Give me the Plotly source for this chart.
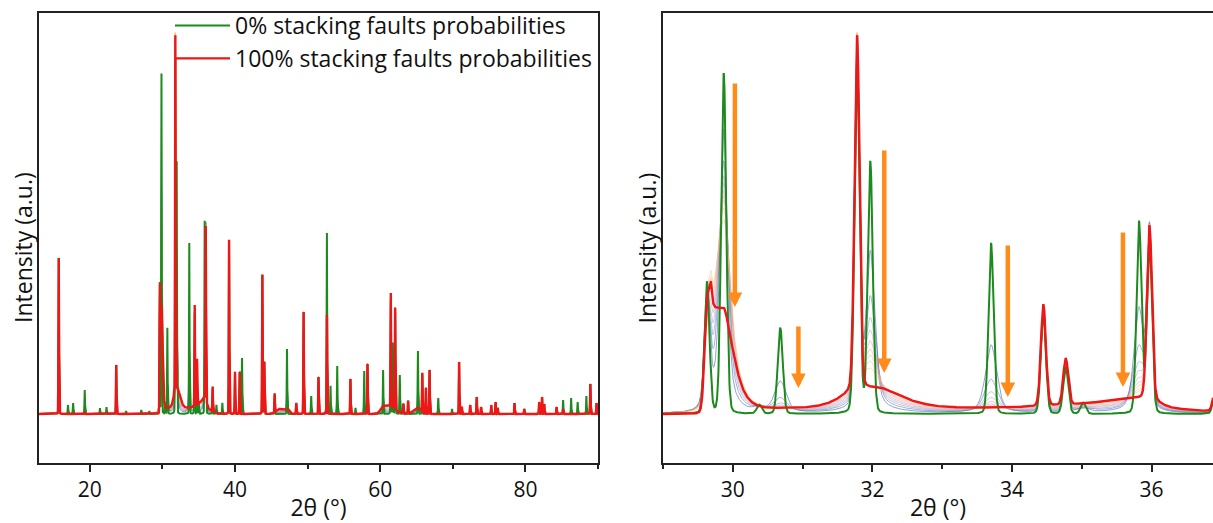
import numpy as np
import plotly.graph_objects as go

# ---------------- data ----------------
# Reflection table: 2θ position, height at 0 % faults (green), at 100 % faults (red),
# and how quickly the faulted part of the reflection fades with fault probability
peak_pos = [15.72, 17.0, 17.7, 19.3, 21.4, 22.3, 23.64, 25.0, 27.1, 28.2,
            29.63, 29.87, 30.38, 30.68, 31.78, 31.97, 33.70, 34.45, 34.77, 35.02,
            35.82, 35.97, 36.92, 37.44, 38.26, 39.18, 40.0, 40.65, 40.97, 43.77,
            44.04, 45.46, 47.16, 48.44, 49.45, 50.5, 51.5, 52.66, 53.16, 54.08,
            55.9, 56.6, 57.8, 58.25, 60.4, 61.46, 61.74, 62.06, 62.7, 63.2,
            63.85, 65.2, 65.8, 66.3, 66.8, 68.0, 69.9, 70.87, 71.25, 72.4,
            73.3, 73.9, 75.3, 75.9, 76.2, 78.5, 79.85, 81.9, 82.3, 82.6,
            84.3, 85.2, 86.3, 87.2, 88.4, 88.95, 89.8]
peak_h0 = [156, 9, 11, 24, 6, 7, 49, 3, 4, 3,
           131, 340, 9, 86, 353, 251, 171, 101, 46, 11,
           192, 172, 25, 9, 11, 174, 42, 42, 56, 139,
           52, 19, 65, 11, 102, 18, 37, 181, 28, 48,
           35, 6, 43, 50, 44, 113, 71, 102, 39, 10,
           13, 63, 40, 26, 44, 16, 5, 52, 7, 9,
           17, 7, 9, 12, 6, 11, 5, 12, 17, 10,
           7, 14, 16, 12, 18, 30, 11]
peak_h100 = [156, 0, 0, 2, 0, 0, 49, 0, 0, 0,
             98, 0, 0, 0, 353, 0, 0, 101, 46, 0,
             0, 172, 25, 0, 0, 174, 42, 42, 0, 139,
             52, 19, 0, 11, 102, 0, 37, 99, 0, 0,
             35, 0, 0, 50, 0, 113, 0, 102, 0, 10,
             13, 0, 40, 26, 44, 0, 0, 52, 7, 9,
             17, 7, 9, 12, 6, 11, 5, 12, 17, 10,
             7, 5, 0, 0, 0, 30, 11]
peak_gamma = [1.5] * len(peak_pos)
for p, g in [(29.63, 1.0), (29.87, 0.45), (30.68, 2.0), (31.97, 0.9),
             (33.70, 1.8), (35.82, 1.2)]:
    peak_gamma[peak_pos.index(p)] = g
peak_fwhm = 0.085

# Diffuse scattering bands of the faulted structure (flat top between start and end)
band_start = [29.69, 31.80, 30.30, 35.88, 46.0, 60.3, 65.0]
band_end = [29.87, 32.10, 36.00, 35.96, 47.3, 61.5, 65.4]
band_amp = [105, 20, 6, 10, 5, 8, 6]
band_rise = [0.04, 0.34, 0.30, 1.00, 0.5, 0.4, 0.6]
band_decay = [0.20, 0.47, 1.00, 0.20, 0.3, 0.8, 0.3]

# Intermediate fault probabilities (thin curves)
mid_probabilities = [10, 20, 30, 40, 50, 60, 70, 80, 90]
mid_survival = [0.6, 0.4, 0.3, 0.24, 0.19, 0.15, 0.12, 0.09, 0.06]
mid_diffuse = [0.12, 0.25, 0.37, 0.48, 0.58, 0.68, 0.77, 0.85, 0.93]
mid_colors = ["#1f3c99", "#4062ad", "#7b86c0", "#a88fbe", "#cc90b0",
              "#e49b9c", "#eea885", "#f3b474", "#f6c07c"]

# Orange arrows in the zoomed panel: 2θ, tail intensity, tip intensity
arrow_x = [30.03, 30.94, 32.17, 33.94, 35.59]
arrow_tail = [332, 89, 265, 170, 183]
arrow_tip = [107, 26, 41, 17, 27]

GREEN = "#1c8a1c"
RED = "#ee1616"
ORANGE = "#ff8b1a"
FONT = "Open Sans"


# ---------------- profile construction ----------------
def pv(x, c, w, eta):
    d = (x - c) / w
    return eta / (1 + 4 * d * d) + (1 - eta) * np.exp(-4 * np.log(2) * d * d)


def diffuse(x):
    y = np.zeros_like(x)
    for s, e, a, r, dcy in zip(band_start, band_end, band_amp, band_rise, band_decay):
        b = np.full_like(x, a, dtype=float)
        left = x < s
        right = x > e
        b[left] = a * np.exp(-((s - x[left]) / r) ** 1.5)
        b[right] = a * np.exp(-((x[right] - e) / dcy) ** 1.5)
        y += b
    return y


def pattern(x, which, k=None):
    y = np.zeros_like(x)
    for p, h0, h1, g in zip(peak_pos, peak_h0, peak_h100, peak_gamma):
        if which == "green":
            y += h0 * pv(x, p, peak_fwhm, 0.1)
        elif which == "red":
            y += h1 * pv(x, p, peak_fwhm, 0.1)
        else:
            se = mid_survival[k] ** g
            y += h1 * pv(x, p, peak_fwhm, 0.1)
            if h0 > h1:
                w = peak_fwhm * (1 + 2.0 * (1 - se))
                y += (h0 - h1) * se * pv(x, p, w, 0.5)
    if which == "red":
        y += diffuse(x)
    elif which == "mid":
        y += mid_diffuse[k] * diffuse(x)
    return y


x_full = np.arange(13.0, 90.0001, 0.01)
x_zoom = np.arange(29.0, 36.8801, 0.004)

fig = go.Figure()
for xs, xa, ya, leg in [(x_full, "x", "y", True), (x_zoom, "x2", "y2", False)]:
    for k in range(len(mid_probabilities)):
        fig.add_trace(go.Scatter(
            x=xs, y=pattern(xs, "mid", k), mode="lines", xaxis=xa, yaxis=ya,
            line=dict(color=mid_colors[k], width=0.8), opacity=0.6,
            name=f"{mid_probabilities[k]}% stacking faults probabilities",
            showlegend=False, hoverinfo="skip"))
    fig.add_trace(go.Scatter(
        x=xs, y=pattern(xs, "green"), mode="lines", xaxis=xa, yaxis=ya,
        line=dict(color=GREEN, width=2), name="0% stacking faults probabilities",
        showlegend=leg))
    fig.add_trace(go.Scatter(
        x=xs, y=pattern(xs, "red"), mode="lines", xaxis=xa, yaxis=ya,
        line=dict(color=RED, width=2.4), name="100% stacking faults probabilities",
        showlegend=leg))

W, H = 1213, 523
ydom = [60 / H, 510 / H]
yr = [-49, 401]
axis_common = dict(showline=True, linecolor="#222", linewidth=1.5, showgrid=False,
                   zeroline=False, ticks="outside", ticklen=7, tickwidth=1.5,
                   tickcolor="#222", tickfont=dict(family=FONT, size=21, color="#111"),
                   automargin=False,
                   title=dict(text="2θ (°)", font=dict(family=FONT, size=23, color="#111"),
                              standoff=0))
fig.update_layout(
    width=W, height=H, margin=dict(l=0, r=0, t=0, b=0, autoexpand=False),
    paper_bgcolor="white", plot_bgcolor="white",
    font=dict(family=FONT, color="#111"),
    xaxis=dict(domain=[39 / W, 598 / W], range=[13, 90], tick0=0, dtick=20,
               minor=dict(tick0=0, dtick=10, ticks="outside", ticklen=4,
                          tickwidth=1.5, tickcolor="#222"),
               mirror=True, anchor="y", **axis_common),
    yaxis=dict(domain=ydom, range=yr, showticklabels=False, ticks="",
               showline=True, linecolor="#222", linewidth=1.5, mirror=True,
               showgrid=False, zeroline=False, anchor="x", automargin=False),
    xaxis2=dict(domain=[663 / W, 1.0], range=[29, 36.88], tick0=0, dtick=2,
                minor=dict(tick0=0, dtick=1, ticks="outside", ticklen=4,
                           tickwidth=1.5, tickcolor="#222"),
                mirror=True, anchor="y2", **axis_common),
    yaxis2=dict(domain=ydom, range=yr, showticklabels=False, ticks="",
                showline=True, linecolor="#222", linewidth=1.5, mirror=False,
                showgrid=False, zeroline=False, anchor="x2", automargin=False),
    legend=dict(x=170 / W, y=1 - 4 / H, xanchor="left", yanchor="top",
                bgcolor="rgba(0,0,0,0)", font=dict(family=FONT, size=23, color="#111"),
                itemwidth=55, tracegroupgap=0),
    showlegend=True,
)

for xc in [23 / W, 646.5 / W]:
    fig.add_annotation(x=xc, y=(H - 248) / H, xref="paper", yref="paper",
                       xanchor="center", yanchor="middle",
                       text="Intensity (a.u.)", textangle=-90, showarrow=False,
                       font=dict(family=FONT, size=23, color="#111"))

for xa, yt, yh in zip(arrow_x, arrow_tail, arrow_tip):
    fig.add_annotation(x=xa, y=yh, ax=xa, ay=yt, xref="x2", yref="y2",
                       axref="x2", ayref="y2", text="", showarrow=True,
                       arrowhead=2, arrowsize=0.65, arrowwidth=4.5,
                       arrowcolor=ORANGE, standoff=0)

# page without the browser's default body margin so the figure fills the window
fig.write_html("out.html", config={"displayModeBar": False},
               post_script="document.body.style.margin='0';")
